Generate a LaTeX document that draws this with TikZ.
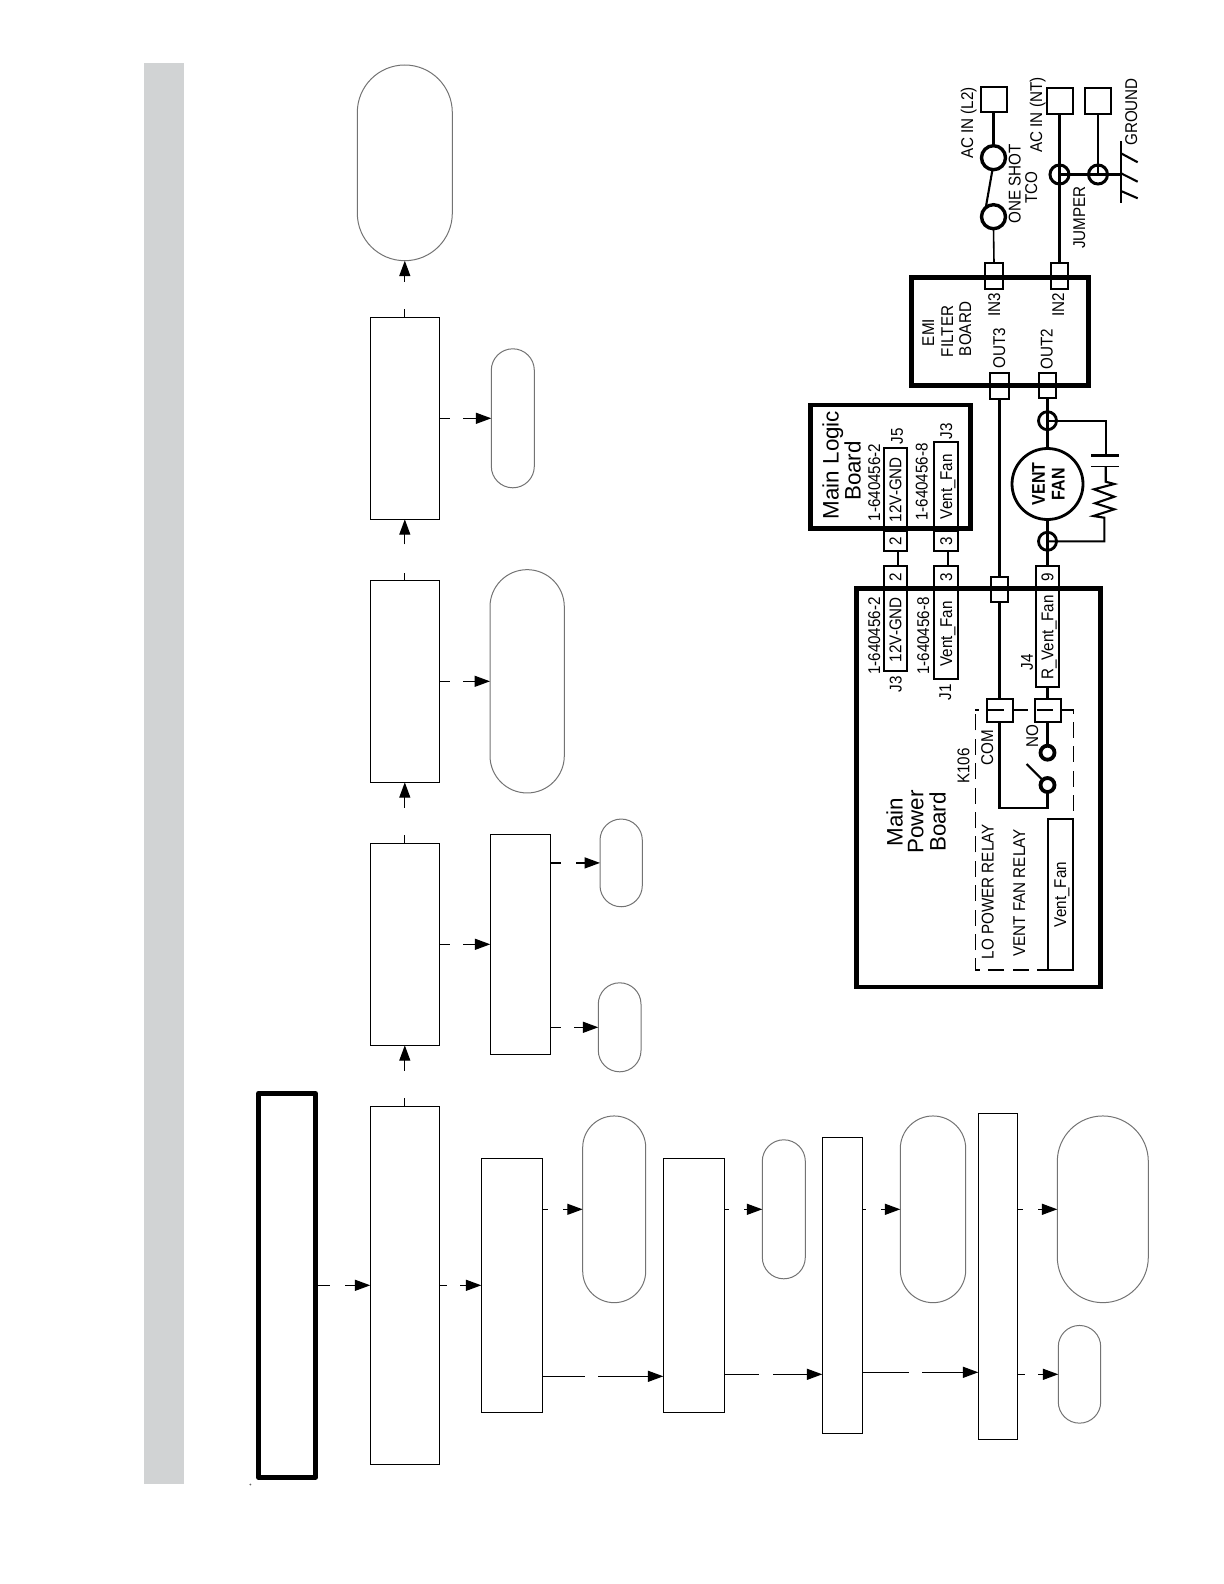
\documentclass[tikz,border=0pt]{standalone}
\usepackage{fontspec}
\setmainfont{Liberation Sans}
\usepackage{tikz}
\usetikzlibrary{arrows.meta}
\definecolor{bandgray}{HTML}{D1D3D4}
\newcommand{\vtxt}[1]{\rotatebox{90}{\scalebox{1}[1.12]{\raisebox{0pt}[\height][0pt]{#1}}}}
\tikzset{
sz/.style 2 args={minimum width=#1*0.5pt,minimum height=#2*0.5pt},
flowbox/.style 2 args={rectangle,draw=black,line width=0.65pt,inner sep=0pt,outer sep=0pt,sz={#1}{#2}},
boldbox/.style 2 args={rectangle,draw=black,line width=2.35pt,miter limit=10,inner sep=0pt,outer sep=0pt,sz={#1}{#2}},
pill/.style 2 args={rectangle,draw=black!55,line width=0.5pt,rounded corners=#1*0.25pt,inner sep=0pt,outer sep=0pt,sz={#1}{#2}},
flow/.style 2 args={line width=0.65pt,-{Triangle[length=7.7pt,width=5.5pt]},dash pattern=on #1pt off #2pt on 900pt},
jack/.style 2 args={rectangle,draw=black,line width=1pt,inner sep=0pt,outer sep=0pt,font=\fontsize{7.6}{9}\selectfont,sz={#1}{#2}},
wire/.style={line width=1.05pt},
ring/.style={circle,draw=black,line width=#1,inner sep=0pt,outer sep=0pt},
lbl/.style={transform shape,rotate=90,yscale=1.12,inner sep=0pt,text height=5.4pt,text depth=0pt,font=\fontsize{7.6}{9}\selectfont},
biglbl/.style={rotate=90,inner sep=0pt,text height=8pt,text depth=0pt,font=\fontsize{11.2}{13}\selectfont},
fanlbl/.style={transform shape,rotate=90,yscale=1.15,inner sep=0pt,text height=5.8pt,text depth=0pt,font=\fontsize{8}{9}\selectfont\bfseries}
}
\begin{document}
\begin{tikzpicture}[x=0.5pt,y=-0.5pt]
\useasboundingbox (0,0) rectangle (1224,1584);
\fill[bandgray] (143.8,62.6) rectangle (184,1484);
\fill[black!60] (250.4,1484.5) circle (0.5pt);

\node[boldbox={57}{384},line join=round] (start) at (287,1285.3) {};
\node[flowbox={69}{358}] (b1) at (404.8,1285.3) {};
\node[flowbox={69}{202}] (b2) at (404.8,944.3) {};
\node[flowbox={69}{202}] (b3) at (404.8,681.3) {};
\node[flowbox={69}{202}] (b4) at (404.8,418.3) {};
\node[pill={95}{195.7}] (endcap) at (404.8,162.85) {};
\node[pill={43}{139}] (p4) at (512.8,418.3) {};
\node[pill={74.3}{223.3}] (p3) at (527.15,681.3) {};
\node[flowbox={60}{220}] (s2) at (520.3,944.3) {};
\node[pill={42.3}{87.7}] (p2u) at (621.15,862.9) {};
\node[pill={42.7}{89}] (p2l) at (619.65,1027.3) {};
\node[flowbox={61}{254}] (c1) at (511.8,1285.3) {};
\node[pill={63}{186.7}] (p1) at (614.2,1209.3) {};
\node[flowbox={61}{254}] (c2) at (693.8,1285.3) {};
\node[pill={43}{139}] (q2) at (783.8,1209.3) {};
\node[flowbox={40}{296}] (c3) at (842.3,1285.3) {};
\node[pill={65.4}{186.7}] (q3) at (933,1209.3) {};
\node[flowbox={39}{326}] (c4) at (997.8,1276.3) {};
\node[pill={91}{186.7}] (q4) at (1102.8,1209.3) {};
\node[pill={42.4}{97.7}] (q5) at (1079.5,1374.3) {};
\coordinate (k1) at (600,1376.3);
\coordinate (k2) at (770,1374.3);
\coordinate (k3) at (920,1372.3);

\draw[flow={7.25}{7.5}] (start) -- (b1);
\draw[flow={3.85}{6.5}] (b1) -- (c1);
\draw[flow={4.2}{13.7}] (b1) -- (b2);
\draw[flow={4.2}{13.7}] (b2) -- (b3);
\draw[flow={3.7}{14.3}] (b3) -- (b4);
\draw[flow={4.2}{13.7}] (b4) -- (endcap);
\draw[flow={5.35}{6.65}] (b4) -- (p4);
\draw[flow={5.35}{6.65}] (b3) -- (p3);
\draw[flow={5.35}{6.65}] (b2) -- (s2);
\draw[flow={5.35}{7.5}] (s2.east |- p2u) -- (p2u);
\draw[flow={5.35}{6.5}] (s2.east |- p2l) -- (p2l);
\draw[flow={3}{7.5}] (c1.east |- p1) -- (p1);
\draw[flow={21.35}{6.65}] (c1.east |- k1) -- (c2.west |- k1);
\draw[flow={2.35}{7.5}] (c2.east |- q2) -- (q2);
\draw[flow={17.35}{7.15}] (c2.east |- k2) -- (c3.west |- k2);
\draw[flow={1.85}{7.5}] (c3.east |- q3) -- (q3);
\draw[flow={23.35}{6.65}] (c3.east |- k3) -- (c4.west |- k3);
\draw[flow={2.7}{7.65}] (c4.east |- q4) -- (q4);
\draw[flow={3.85}{6.65}] (c4.east |- q5) -- (q5);

\node[boldbox={159.7}{123.3}] (mlb) at (890.45,466.65) {};
\node[boldbox={244.1}{398.7}] (mpb) at (978.35,787.65) {};
\node[boldbox={177}{108.1}] (emi) at (1000.2,331.35) {};

\node[jack={22.7}{82.7}] (mlgnd) at (895.35,489.65) {\vtxt{12V-GND}};
\node[jack={24.3}{88.7}] (mlfan) at (946.15,486.65) {\vtxt{Vent\_Fan}};
\node[jack={22.7}{20}] (ml2) at (895.35,541) {\vtxt{2}};
\node[jack={24.3}{20}] (ml3) at (946.15,541) {\vtxt{3}};
\node[jack={22.7}{22.6}] (mp2) at (895.35,577) {\vtxt{2}};
\node[jack={24.3}{22.6}] (mp3) at (946.15,577) {\vtxt{3}};
\node[jack={23.3}{22.6}] (mp9) at (1047.5,577) {\vtxt{9}};
\node[jack={22.7}{82.7}] (mpgnd) at (895.35,629.65) {\vtxt{12V-GND}};
\node[jack={24.3}{91}] (mpfan) at (946.15,633.8) {\vtxt{Vent\_Fan}};
\node[jack={23.3}{98.4}] (mpr) at (1047.5,637.5) {\vtxt{R\_Vent\_Fan}};
\node[jack={17.6}{25}] (midj) at (999.5,589.2) {};
\node[jack={26}{23}] (com) at (999.5,710.8) {};
\node[jack={26}{23}] (no) at (1047.5,710.8) {};
\node[jack={25}{151}] (relfan) at (1060.2,894.5) {\vtxt{Vent\_Fan}};
\node[jack={19.3}{26}] (out3) at (999.5,386.3) {};
\node[jack={17.4}{25}] (out2) at (1047.5,385.5) {};
\node[jack={17.6}{26}] (in3) at (994,276.3) {};
\node[jack={17.6}{26}] (in2) at (1059.5,276.3) {};
\node[jack={26}{25.3}] (acl) at (993.5,99.35) {};
\node[jack={26}{25.7}] (acn) at (1059.5,101.15) {};
\node[jack={26}{25.7}] (acg) at (1098,101.15) {};

\node[ring=1.7pt,sz={24}{24}] (tco1) at (993.5,157.7) {};
\node[ring=1.7pt,sz={24}{24}] (tco2) at (993.5,216.7) {};
\node[ring=1.5pt,sz={19}{19}] (jmp1) at (1059.5,174.5) {};
\node[ring=1.5pt,sz={19}{19}] (jmp2) at (1098,174.5) {};
\node[ring=1.4pt,sz={71}{71}] (fan) at (1047.5,484) {};
\node[ring=1.4pt,sz={18}{18}] (fan1) at (1047.5,420.7) {};
\node[ring=1.4pt,sz={18}{18}] (fan2) at (1047.5,541.3) {};
\node[ring=1.9pt,sz={14}{14}] (sw1) at (1047.5,752.7) {};
\node[ring=1.9pt,sz={14}{14}] (sw2) at (1047.5,785) {};

\coordinate (cor) at (1047.5,808);
\coordinate (blade) at (1026.7,764);
\coordinate (gnd) at (1121,174.5);
\coordinate (gndt) at (1121,141);
\coordinate (gndb) at (1121,203.3);
\coordinate (capa) at (1105.7,420.7);
\coordinate (capb) at (1105.7,455.7);
\coordinate (capc) at (1105.7,466.3);
\coordinate (resa) at (1105.7,481.7);
\coordinate (resb) at (1104.3,517.7);
\coordinate (resc) at (1104.3,541.3);

\draw[wire] ([xshift=1.3pt]ml2.south) -- ([xshift=1.3pt]mp2.north);
\draw[wire] ([xshift=0.7pt]ml3.south) -- ([xshift=0.7pt]mp3.north);
\draw[wire] (out3.south) -- (midj.north);
\draw[wire] (midj.south) -- (com.north);
\draw[wire] (mpr.south) -- (no.north);
\draw[wire] (out2.south) -- (fan.north);
\draw[wire] (fan.south) -- (mp9.north);
\draw[wire] (no.south) -- (sw1.north);
\draw[wire] (com.south) |- (cor) -- (sw2.south);
\draw[wire] (sw2.135) -- (blade);
\draw[wire] (acl.south) -- (tco1.north);
\draw[wire] (tco1.-95) -- (tco2.130);
\draw[line width=0.8pt] (tco2.south) -- (in3.north);
\draw[wire] (acn.south) -- (in2.north);
\draw[wire] (acg.south) -- (jmp2.center);
\draw[wire] (jmp1.center) -- (gnd);
\draw[wire] (gndt) -- (gndb);
\draw[wire] (1121,153.3) -- (1137.7,162.3);
\draw[wire] (1121,173.3) -- (1137.7,181.7);
\draw[wire] (1121,191) -- (1137.7,198.3);
\draw[wire] (fan1.center) -- (capa) -- (capb);
\draw[line width=1.6pt] (1091,455.7) -- (1119,455.7);
\draw[line width=0.8pt] (1091,466.3) -- (1119,466.3);
\draw[wire] (capc) -- (resa) -- (1114.3,484) -- (1094,489.3) -- (1114.3,496.7) -- (1095,503.3) -- (1114.3,509.3) -- (1093.3,516) -- (resb) -- (resc) -- (fan2.center);
\draw[line width=0.6pt,dash pattern=on 8pt off 4.2pt,dash phase=6pt] (975.3,710) -- (1073.3,710) -- (1073.3,970) -- (975.3,970) -- cycle;

\node[biglbl] (tmain) at (830.5,465) {Main Logic};
\node[biglbl] (tboard) at (852.5,471) {Board};
\node[lbl] (t1) at (874,482.5) {1-640456-2};
\node[lbl] (t2) at (921.5,482) {1-640456-8};
\node[lbl] (tj5) at (896.7,436.5) {J5};
\node[lbl] (tj3a) at (946,431.5) {J3};
\node[lbl] (t3) at (874,636) {1-640456-2};
\node[lbl] (t4) at (923,636) {1-640456-8};
\node[lbl] (tj3b) at (895.5,684) {J3};
\node[lbl] (tj1) at (945,692) {J1};
\node[lbl] (tj4) at (1026.7,662) {J4};
\node[lbl] (tk) at (963.3,766) {K106};
\node[lbl] (tcom) at (987,748) {COM};
\node[lbl] (tno) at (1032,736) {NO};
\node[biglbl] (tm1) at (894.7,822) {Main};
\node[biglbl] (tm2) at (915.3,822) {Power};
\node[biglbl] (tm3) at (937.7,822) {Board};
\node[lbl] (trl1) at (987.5,891.7) {LO POWER RELAY};
\node[lbl] (trl2) at (1019,893) {VENT FAN RELAY};
\node[fanlbl] (tv) at (1038.3,484) {VENT};
\node[fanlbl] (tf) at (1058,484) {FAN};
\node[lbl] (e1) at (928,332.5) {EMI};
\node[lbl] (e2) at (947,331.5) {FILTER};
\node[lbl] (e3) at (965,329) {BOARD};
\node[lbl] (ei3) at (994,305) {IN3};
\node[lbl] (ei2) at (1058,305) {IN2};
\node[lbl] (eo3) at (999,348) {OUT3};
\node[lbl] (eo2) at (1046.5,349) {OUT2};
\node[lbl] (a1) at (967,123) {AC IN (L2)};
\node[lbl] (a2) at (1036,115) {AC IN (NT)};
\node[lbl] (a3) at (1014.5,184) {ONE SHOT};
\node[lbl] (a4) at (1031,187.5) {TCO};
\node[lbl] (a5) at (1079,217.5) {JUMPER};
\node[lbl] (a6) at (1131,112) {GROUND};
\end{tikzpicture}
\end{document}
